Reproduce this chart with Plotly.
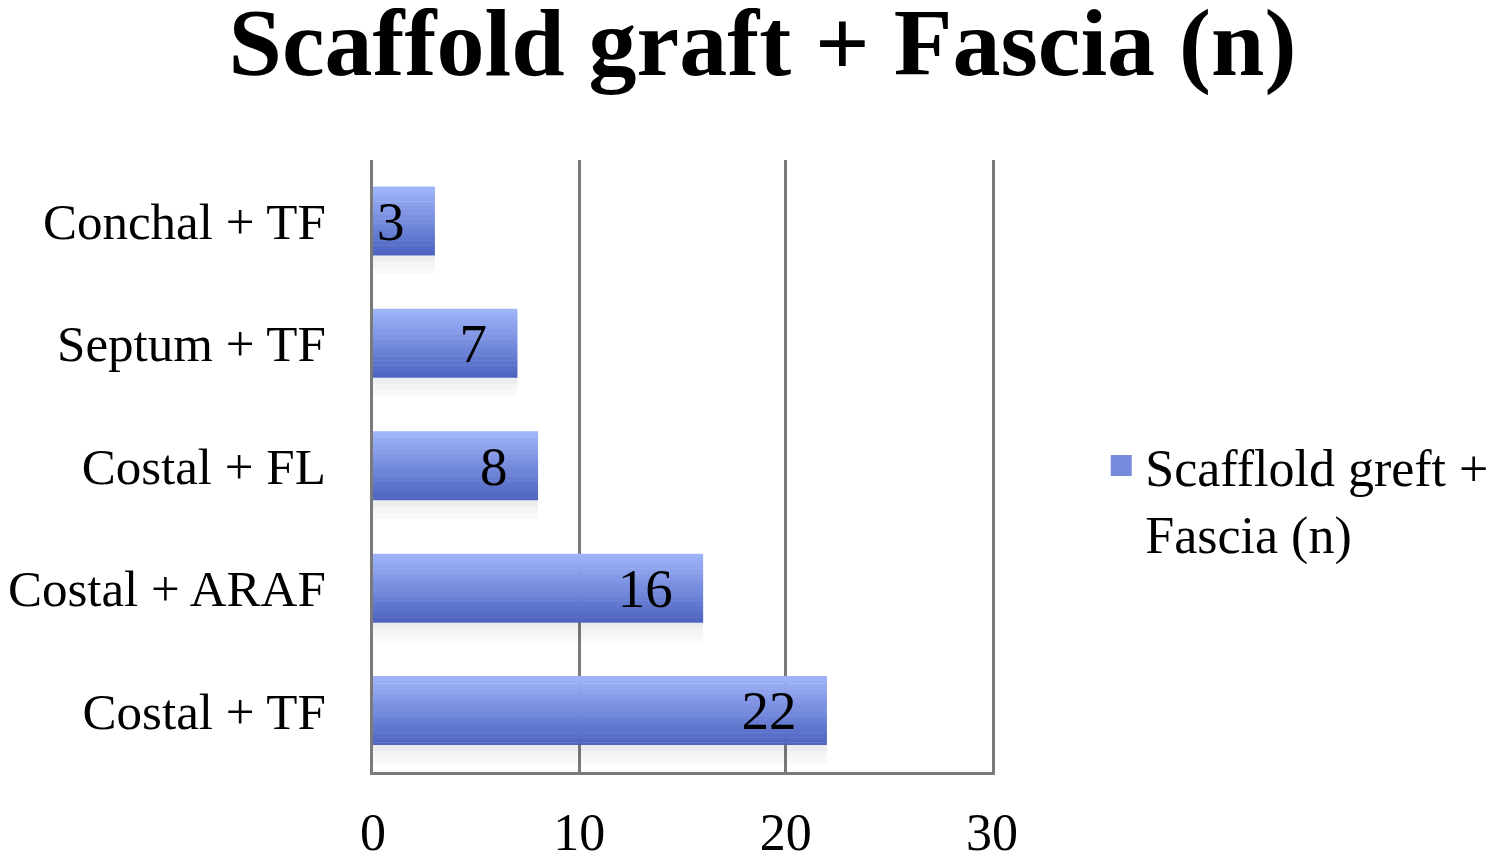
import plotly.graph_objects as go

categories = ["Conchal + TF", "Septum + TF", "Costal + FL", "Costal + ARAF", "Costal + TF"]
values = [3, 7, 8, 16, 22]
x_ticks = [0, 10, 20, 30]
series_name = "Scafflold greft +<br>Fascia (n)"

font_family = "Liberation Serif, DejaVu Serif, serif"

# bar look: a vertical gradient faked with thin overlaid slices
bar_width = 0.56
n_slices = 28
top_rgb = (160, 180, 250)
bottom_rgb = (78, 100, 192)

fig = go.Figure()

# soft drop shadow under each bar
for k, a in enumerate([0.07, 0.045, 0.025]):
    fig.add_trace(go.Bar(
        y=categories, x=values, orientation="h",
        width=0.05, offset=-bar_width / 2 - 0.05 * (k + 1),
        marker=dict(color=f"rgba(0,0,0,{a})", line_width=0),
        showlegend=False, hoverinfo="skip",
    ))

for i in range(n_slices):
    t = i / (n_slices - 1)
    r, g, b = (round(top_rgb[k] + (bottom_rgb[k] - top_rgb[k]) * t) for k in range(3))
    slice_w = bar_width / n_slices
    fig.add_trace(go.Bar(
        y=categories, x=values, orientation="h",
        width=slice_w + 0.004,
        offset=bar_width / 2 - (i + 1) * slice_w,
        marker=dict(color=f"rgb({r},{g},{b})", line_width=0),
        showlegend=False, hoverinfo="skip",
    ))

# value labels
fig.add_trace(go.Bar(
    y=categories, x=values, orientation="h",
    width=bar_width, offset=-bar_width / 2,
    marker=dict(color="rgba(0,0,0,0)", line_width=0),
    text=[f"{v}\u2002" for v in values],
    textposition="inside", insidetextanchor="end", constraintext="none",
    textfont=dict(family=font_family, size=55, color="black"),
    name=series_name, showlegend=False, hoverinfo="skip",
))

# legend entry
fig.add_trace(go.Scatter(
    x=[None], y=[None], mode="markers",
    marker=dict(symbol="square", size=16, color="rgb(118,138,222)",
                line=dict(color="rgb(118,138,222)", width=5)),
    name=series_name, showlegend=True,
))

fig.update_layout(
    barmode="overlay",
    width=1500, height=857,
    paper_bgcolor="white", plot_bgcolor="white",
    margin=dict(l=365, r=516, t=152, b=93),
    title=dict(
        text="<b>Scaffold graft + Fascia (n)</b>",
        x=0.503, xanchor="center", y=1, yanchor="top",
        pad=dict(t=0),
        font=dict(family=font_family, size=96, color="black"),
    ),
    font=dict(family=font_family, color="black"),
    legend=dict(
        x=1.17, xanchor="left", y=0.445, yanchor="middle",
        valign="top",
        font=dict(family=font_family, size=52, color="black"),
        itemwidth=38,
    ),
    xaxis=dict(
        range=[0, 30], tickvals=x_ticks,
        showgrid=True, gridcolor="#7a7a7a", gridwidth=3,
        showline=True, linecolor="#7a7a7a", linewidth=3,
        zeroline=False, ticks="", automargin=False,
        tickfont=dict(family=font_family, size=52, color="black"),
        ticklabelstandoff=13,
    ),
    yaxis=dict(
        categoryorder="array", categoryarray=categories[::-1],
        showgrid=False, showline=True, mirror=True,
        linecolor="#7a7a7a", linewidth=3,
        ticks="", automargin=False,
        tickfont=dict(family=font_family, size=51, color="black"),
        ticklabelstandoff=34,
    ),
)

fig.write_html("out.html")
